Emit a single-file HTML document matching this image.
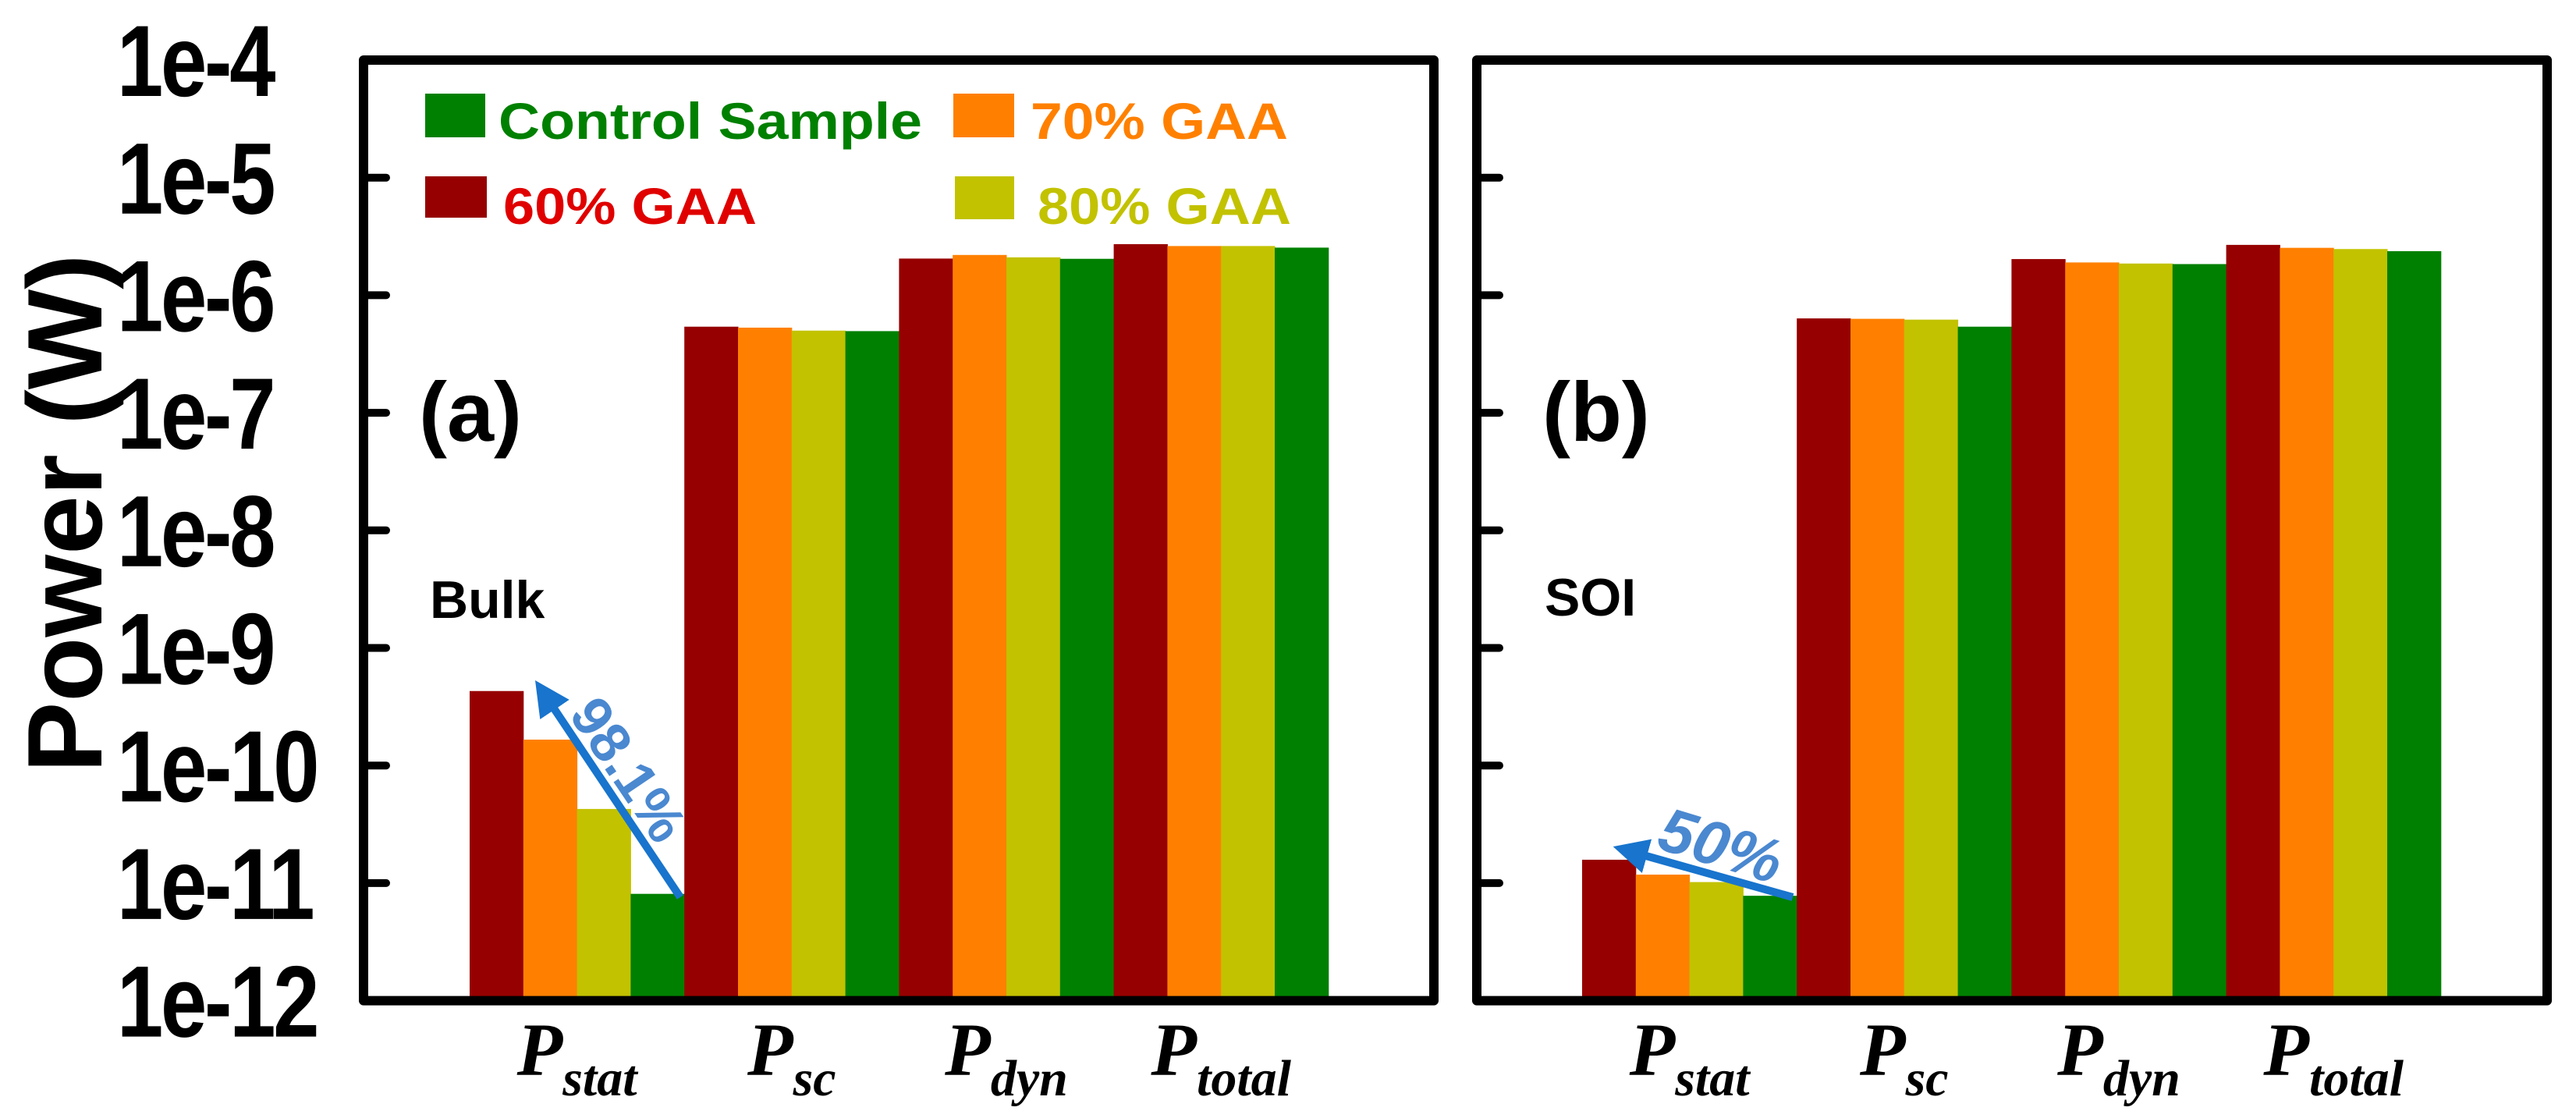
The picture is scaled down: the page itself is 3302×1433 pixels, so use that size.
<!DOCTYPE html>
<html><head><meta charset="utf-8"><style>
html,body{margin:0;padding:0;background:#fff}
svg{display:block}
</style></head><body>
<svg id="chart" width="3302" height="1433" viewBox="0 0 3302 1433" xmlns="http://www.w3.org/2000/svg">
<g id="bars"></g>
<g id="axes"></g>
<g id="labels"></g>
</svg>
<script>
const categories = ["stat", "sc", "dyn", "total"];
const seriesNames = ["60% GAA", "70% GAA", "80% GAA", "Control Sample"];
const bulkP60 = [4.3e-10, 5.4e-7, 2.05e-6, 2.72e-6];
const bulkP70 = [1.66e-10, 5.3e-7, 2.2e-6, 2.62e-6];
const bulkP80 = [4.27e-11, 5.0e-7, 2.1e-6, 2.62e-6];
const bulkCtrl = [8.1e-12, 4.95e-7, 2.04e-6, 2.54e-6];
const soiP60 = [1.58e-11, 6.35e-7, 2.03e-6, 2.68e-6];
const soiP70 = [1.18e-11, 6.3e-7, 1.9e-6, 2.53e-6];
const soiP80 = [1.02e-11, 6.2e-7, 1.86e-6, 2.47e-6];
const soiCtrl = [7.8e-12, 5.4e-7, 1.84e-6, 2.37e-6];
const tickExps = [-4, -5, -6, -7, -8, -9, -10, -11, -12];

const NS = "http://www.w3.org/2000/svg";
const colors = ["#960000", "#ff8000", "#c2c200", "#008000"];
const yTop = 77, decade = 150.7;
function yScale(v) { return yTop + (-4 - Math.log10(v)) * decade; }
const yBase = yScale(1e-12);
function mk(tag, attrs, parent, text) {
  const e = document.createElementNS(NS, tag);
  for (const k in attrs) e.setAttribute(k, attrs[k]);
  if (text !== undefined) e.textContent = text;
  parent.appendChild(e);
  return e;
}
const barsG = document.getElementById("bars");
const axesG = document.getElementById("axes");
const labG = document.getElementById("labels");

const panels = [
  {id: "bulk", x0: 466, x1: 1838, barStart: 602, data: [bulkP60, bulkP70, bulkP80, bulkCtrl]},
  {id: "soi", x0: 1893, x1: 3265, barStart: 2028, data: [soiP60, soiP70, soiP80, soiCtrl]}
];
const bw = 68.8;
panels.forEach(p => {
  categories.forEach((c, ci) => {
    p.data.forEach((arr, si) => {
      const x = p.barStart + (ci * 4 + si) * bw;
      const y = yScale(arr[ci]);
      const r = mk("rect", {x: x, y: y, width: bw + 0.5, height: yBase - y, fill: colors[si]}, barsG);
      
      
    });
    const cx = p.barStart + (ci * 4 + 2) * bw;
    const t = mk("text", {x: cx, y: 1378, "text-anchor": "middle", "font-family": "Liberation Serif, serif", "font-style": "italic", "font-weight": "bold", "font-size": 96, fill: "#000"}, labG);
    
    
    mk("tspan", {}, t, "P");
    mk("tspan", {dy: 26, "font-size": 66}, t, c);
  });
  const f = mk("rect", {x: p.x0, y: yTop, width: p.x1 - p.x0, height: yBase - yTop, fill: "none", stroke: "#000", "stroke-width": 12, "stroke-linejoin": "round"}, axesG);
  
  
  tickExps.forEach(e => {
    if (e === -4 || e === -12) return;
    const y = yScale(Math.pow(10, e));
    const tk = mk("line", {x1: p.x0, x2: p.x0 + 29, y1: y, y2: y, stroke: "#000", "stroke-width": 10, "stroke-linecap": "round"}, axesG);
    
    
  });
});
tickExps.forEach(e => {
  const y = yScale(Math.pow(10, e));
  const t = mk("text", {x: 0, y: 0, transform: "translate(150," + (y + 46) + ") scale(0.82,1)", "font-family": "Liberation Sans, sans-serif", "font-weight": "bold", "font-size": 130, "letter-spacing": -4, fill: "#000"}, labG, "1e" + e);
  
  
});
</script>
<svg width="3302" height="1433" viewBox="0 0 3302 1433" xmlns="http://www.w3.org/2000/svg" style="position:absolute;left:0;top:0">
<defs><marker id="ah" viewBox="0 0 10 10" refX="6" refY="5" markerWidth="4.5" markerHeight="4.5" orient="auto"><path d="M0,0 L10,5 L0,10 z" fill="#1874cd"/></marker></defs>
<text transform="translate(130,658) rotate(-90)" text-anchor="middle" font-family="Liberation Sans, sans-serif" font-weight="bold" font-size="136" fill="#000">Power (W)</text>
<rect x="545" y="120" width="77" height="56" fill="#008000"/>
<text x="639" y="178" font-family="Liberation Sans, sans-serif" font-weight="bold" font-size="66" textLength="543" lengthAdjust="spacingAndGlyphs" fill="#008000">Control Sample</text>
<rect x="1222" y="120" width="78" height="56" fill="#ff8000"/>
<text x="1321" y="178" font-family="Liberation Sans, sans-serif" font-weight="bold" font-size="66" textLength="330" lengthAdjust="spacingAndGlyphs" fill="#ff8000">70% GAA</text>
<rect x="545" y="226" width="79" height="53" fill="#960000"/>
<text x="645" y="287" font-family="Liberation Sans, sans-serif" font-weight="bold" font-size="66" textLength="325" lengthAdjust="spacingAndGlyphs" fill="#e00000">60% GAA</text>
<rect x="1224" y="226" width="76" height="55" fill="#c2c200"/>
<text x="1330" y="287" font-family="Liberation Sans, sans-serif" font-weight="bold" font-size="66" textLength="325" lengthAdjust="spacingAndGlyphs" fill="#c2c200">80% GAA</text>
<text x="537" y="565" font-family="Liberation Sans, sans-serif" font-weight="bold" font-size="108" fill="#000">(a)</text>
<text x="551" y="792" font-family="Liberation Sans, sans-serif" font-weight="bold" font-size="68" fill="#000">Bulk</text>
<text x="1977" y="565" font-family="Liberation Sans, sans-serif" font-weight="bold" font-size="108" fill="#000">(b)</text>
<text x="1980" y="789" font-family="Liberation Sans, sans-serif" font-weight="bold" font-size="68" fill="#000">SOI</text>
<line x1="872" y1="1150" x2="696" y2="887" stroke="#1874cd" stroke-width="10" marker-end="url(#ah)"/>
<text transform="translate(805,987) rotate(56)" text-anchor="middle" dy="24" font-family="Liberation Sans, sans-serif" font-weight="bold" font-size="72" fill="#4a88d0">98.1%</text>
<line x1="2298" y1="1150" x2="2085" y2="1090" stroke="#1874cd" stroke-width="10" marker-end="url(#ah)"/>
<text transform="translate(2198,1110) rotate(17)" text-anchor="middle" font-family="Liberation Sans, sans-serif" font-weight="bold" font-style="italic" font-size="80" fill="#4a88d0">50%</text>
</svg>
</body></html>
